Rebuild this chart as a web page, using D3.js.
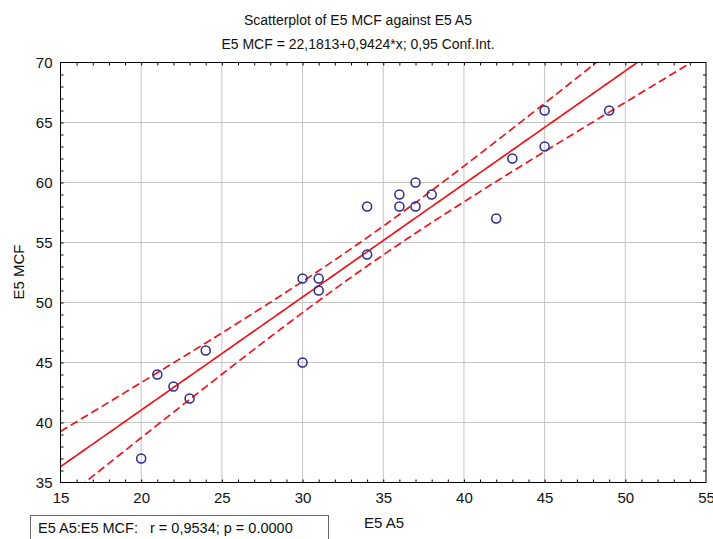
<!DOCTYPE html>
<html>
<head>
<meta charset="utf-8">
<script src="https://cdn.jsdelivr.net/npm/d3@7"></script>
<style>
body { margin: 0; background: #fff; }
text { font-family: "Liberation Sans", Arial, sans-serif; }
</style>
</head>
<body>
<div id="chart"></div>
<script>
var a5  = [20, 21, 22, 23, 24, 30, 30, 31, 31, 34, 34, 36, 36, 37, 37, 38, 42, 43, 45, 45, 49];
var mcf = [37, 44, 43, 42, 46, 52, 45, 52, 51, 58, 54, 59, 58, 60, 58, 59, 57, 62, 66, 63, 66];
var intercept = 22.1813, slope = 0.9424;
var xTicks = [15, 20, 25, 30, 35, 40, 45, 50, 55];
var yTicks = [35, 40, 45, 50, 55, 60, 65, 70];

var W = 713, H = 539;
var margin = {top: 62.5, right: 7, bottom: 56.5, left: 60.5},
width = W - margin.left - margin.right,
height = H - margin.top - margin.bottom;

var svg = d3.select("#chart")
.append("svg")
.attr("width", W)
.attr("height", H);

var g = svg.append("g")
.attr("transform", "translate(" + margin.left + "," + margin.top + ")");

var x = d3.scaleLinear().domain([15, 55]).range([0, width]);
var y = d3.scaleLinear().domain([35, 70]).range([height, 0]);

// grid
g.selectAll(".vgrid").data(xTicks.slice(1, -1)).enter().append("line")
.attr("x1", function(d) { return x(d); }).attr("x2", function(d) { return x(d); })
.attr("y1", 0).attr("y2", height)
.attr("stroke", "#c4c4c4").attr("stroke-width", 1);
g.selectAll(".hgrid").data(yTicks.slice(1, -1)).enter().append("line")
.attr("y1", function(d) { return y(d); }).attr("y2", function(d) { return y(d); })
.attr("x1", 0).attr("x2", width)
.attr("stroke", "#c4c4c4").attr("stroke-width", 1);

// minor ticks inside the frame, every unit
var xMinor = d3.range(16, 55), yMinor = d3.range(36, 70);
g.append("g").call(d3.axisBottom(x).tickValues(xMinor).tickSize(-3).tickFormat(""))
.attr("transform", "translate(0," + height + ")").call(function(s) { s.select(".domain").remove(); });
g.append("g").call(d3.axisTop(x).tickValues(xMinor).tickSize(-3).tickFormat(""))
.call(function(s) { s.select(".domain").remove(); });
g.append("g").call(d3.axisLeft(y).tickValues(yMinor).tickSize(-3).tickFormat(""))
.call(function(s) { s.select(".domain").remove(); });
g.append("g").call(d3.axisRight(y).tickValues(yMinor).tickSize(-3).tickFormat(""))
.attr("transform", "translate(" + width + ",0)").call(function(s) { s.select(".domain").remove(); });

// tick labels
g.append("g").attr("transform", "translate(0," + height + ")")
.call(d3.axisBottom(x).tickValues(xTicks).tickSize(0).tickPadding(10).tickFormat(d3.format("d")))
.call(function(s) {
  s.select(".domain").remove();
  s.selectAll("text").style("font-size", "15px").attr("fill", "#111");
});
g.append("g")
.call(d3.axisLeft(y).tickValues(yTicks).tickSize(0).tickPadding(8).tickFormat(d3.format("d")))
.call(function(s) {
  s.select(".domain").remove();
  s.selectAll("text").style("font-size", "15px").attr("fill", "#111");
});

// regression line and 0.95 confidence band
var n = a5.length, tCrit = 2.093;
var xm = d3.mean(a5);
var sxx = d3.sum(a5, function(v) { return (v - xm) * (v - xm); });
var sse = d3.sum(a5, function(v, i) { var e = mcf[i] - (intercept + slope * v); return e * e; });
var s = Math.sqrt(sse / (n - 2));
var xs = d3.range(15, 55.01, 0.25);
function fit(v) { return intercept + slope * v; }
function hw(v) { return tCrit * s * Math.sqrt(1 / n + (v - xm) * (v - xm) / sxx); }

g.append("clipPath").attr("id", "clip").append("rect").attr("width", width).attr("height", height);
var lines = g.append("g").attr("clip-path", "url(#clip)");
var line = d3.line().x(function(d) { return x(d[0]); }).y(function(d) { return y(d[1]); });

lines.append("path").datum(xs.map(function(v) { return [v, fit(v)]; }))
.attr("d", line).attr("fill", "none").attr("stroke", "#f0141c").attr("stroke-width", 1.7);
lines.append("path").datum(xs.map(function(v) { return [v, fit(v) + hw(v)]; }))
.attr("d", line).attr("fill", "none").attr("stroke", "#f0141c").attr("stroke-width", 1.7)
.attr("stroke-dasharray", "8,4");
lines.append("path").datum(xs.map(function(v) { return [v, fit(v) - hw(v)]; }))
.attr("d", line).attr("fill", "none").attr("stroke", "#f0141c").attr("stroke-width", 1.7)
.attr("stroke-dasharray", "8,4");

// points
g.selectAll(".pt").data(a5).enter().append("circle")
.attr("cx", function(d) { return x(d); })
.attr("cy", function(d, i) { return y(mcf[i]); })
.attr("r", 4.5)
.attr("fill", "none")
.attr("stroke", "#2a2a8a")
.attr("stroke-width", 1.5);

// frame
g.append("rect").attr("width", width).attr("height", height)
.attr("fill", "none").attr("stroke", "#000").attr("stroke-width", 1);

// titles
svg.append("text").attr("x", 358).attr("y", 25).style("text-anchor", "middle")
.style("font-size", "14px").attr("fill", "#111").text("Scatterplot of E5 MCF against E5 A5");
svg.append("text").attr("x", 358).attr("y", 49).style("text-anchor", "middle")
.style("font-size", "14px").attr("fill", "#111").text("E5 MCF = 22,1813+0,9424*x; 0,95 Conf.Int.");

// axis titles
svg.append("text").attr("x", 384).attr("y", 528).style("text-anchor", "middle")
.style("font-size", "15px").attr("fill", "#111").text("E5 A5");
svg.append("text").attr("transform", "translate(24,272)rotate(-90)").style("text-anchor", "middle")
.style("font-size", "15px").attr("fill", "#111").text("E5 MCF");

// stats box
svg.append("rect").attr("x", 30.5).attr("y", 515.5).attr("width", 298).attr("height", 30)
.attr("fill", "#fff").attr("stroke", "#666").attr("stroke-width", 1);
svg.append("text").attr("x", 38).attr("y", 533).style("font-size", "14.5px").attr("fill", "#111")
.attr("xml:space", "preserve").style("white-space", "pre")
.text("E5 A5:E5 MCF:   r = 0,9534; p = 0.0000");
</script>
</body>
</html>
